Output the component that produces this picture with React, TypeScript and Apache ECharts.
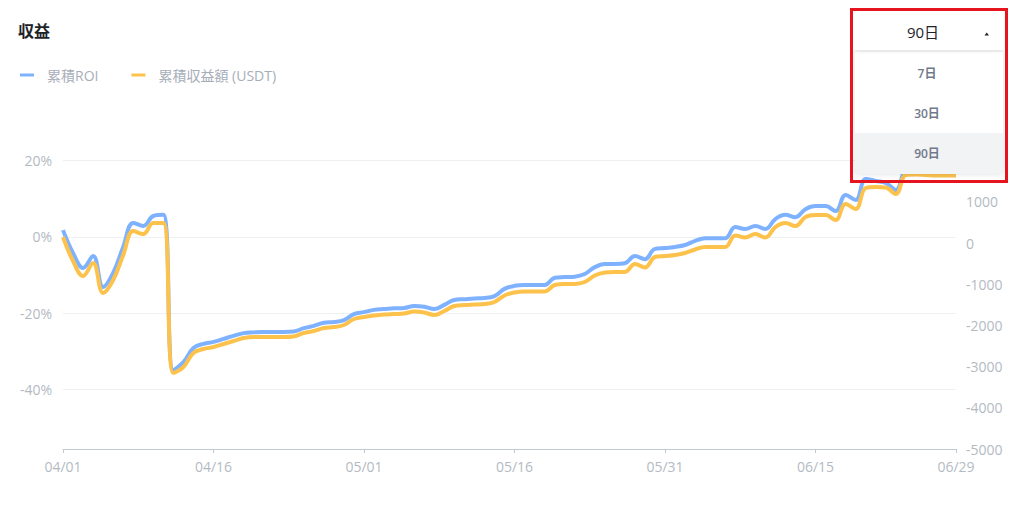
import React, { useEffect, useRef } from "react";
import * as echarts from "echarts";

const dates = [
  "04/01","04/02","04/03","04/04","04/05","04/06","04/07","04/08","04/09","04/10",
  "04/11","04/12","04/13","04/14","04/15","04/16","04/17","04/18","04/19","04/20",
  "04/21","04/22","04/23","04/24","04/25","04/26","04/27","04/28","04/29","04/30",
  "05/01","05/02","05/03","05/04","05/05","05/06","05/07","05/08","05/09","05/10",
  "05/11","05/12","05/13","05/14","05/15","05/16","05/17","05/18","05/19","05/20",
  "05/21","05/22","05/23","05/24","05/25","05/26","05/27","05/28","05/29","05/30",
  "05/31","06/01","06/02","06/03","06/04","06/05","06/06","06/07","06/08","06/09",
  "06/10","06/11","06/12","06/13","06/14","06/15","06/16","06/17","06/18","06/19",
  "06/20","06/21","06/22","06/23","06/24","06/25","06/26","06/27","06/28","06/29",
];

// 累積ROI (%)
const roi = [
  1.8, -4.2, -8.1, -5.0, -13.1, -9.4, -2.6, 3.7, 2.9, 5.5,
  5.8, -34.9, -32.8, -29.1, -28.0, -27.5, -26.7, -25.9, -25.2, -25.0,
  -24.9, -24.9, -24.9, -24.8, -23.9, -23.3, -22.5, -22.3, -21.8, -20.2,
  -19.7, -19.1, -18.9, -18.7, -18.6, -18.1, -18.3, -18.9, -17.8, -16.5,
  -16.3, -16.1, -16.0, -15.5, -13.6, -12.8, -12.6, -12.6, -12.6, -10.7,
  -10.5, -10.4, -9.7, -7.9, -7.1, -7.1, -6.9, -5.0, -5.8, -3.1,
  -2.9, -2.6, -2.1, -1.0, -0.3, -0.3, -0.3, 2.6, 2.1, 2.9,
  2.1, 4.7, 5.8, 5.2, 7.3, 8.1, 8.1, 6.8, 11.0, 9.7,
  15.2, 14.7, 14.2, 12.3, 18.1, 18.9, 19.1, 19.1, 19.1, 19.1,
];

// 累積収益額 (USDT)
const profit = [
  146, -437, -801, -485, -1214, -898, -291, 291, 218, 485,
  485, -3155, -3009, -2670, -2573, -2524, -2451, -2378, -2306, -2281,
  -2281, -2281, -2281, -2269, -2184, -2136, -2063, -2039, -1990, -1845,
  -1796, -1760, -1735, -1723, -1711, -1662, -1687, -1747, -1650, -1529,
  -1505, -1493, -1480, -1432, -1274, -1201, -1177, -1177, -1177, -1019,
  -995, -995, -947, -789, -716, -704, -704, -510, -595, -340,
  -316, -291, -243, -158, -97, -97, -97, 182, 133, 218,
  133, 388, 485, 413, 631, 680, 680, 558, 947, 825,
  1335, 1359, 1347, 1189, 1650, 1660, 1650, 1640, 1640, 1640,
];

const roiTicks = [-40, -20, 0, 20];
const profitTicks = [-5000, -4000, -3000, -2000, -1000, 0, 1000, 2000, 3000];
const rangeOptions = ["7日", "30日", "90日"];
const selectedRange = "90日";

const BLUE = "#7eb2ff";
const YELLOW = "#fcc24b";
const AXIS_TEXT = "#b4bac3";
const FONT = "'Open Sans', 'Noto Sans CJK JP', sans-serif";

export default function App() {
  const ref = useRef<HTMLDivElement | null>(null);

  useEffect(() => {
    if (!ref.current) return;
    const chart = echarts.init(ref.current, undefined, { renderer: "svg" });
    const labelInterval = (i: number) => i % 15 === 0 || i === dates.length - 1;

    const menuItems: any[] = [];
    rangeOptions.forEach((r, k) => {
      const cy = 73 + k * 40;
      if (r === selectedRange) {
        menuItems.push({
          type: "rect",
          z: 101,
          shape: { x: 855, y: cy - 20, width: 148, height: 41 },
          style: { fill: "#f2f3f5" },
        });
      }
      menuItems.push({
        type: "text",
        z: 102,
        x: 927,
        y: cy,
        style: {
          text: r,
          fill: "#707a8a",
          font: `600 12px ${FONT}`,
          align: "center",
          verticalAlign: "middle",
        },
      });
    });

    chart.setOption({
      animation: false,
      backgroundColor: "#ffffff",
      textStyle: { fontFamily: FONT },
      title: {
        text: "収益",
        left: 13,
        top: 18,
        textStyle: { fontSize: 16, fontWeight: "bold", color: "#1e2329", fontFamily: FONT },
      },
      legend: {
        left: 15,
        top: 63,
        icon: "rect",
        itemWidth: 14,
        itemHeight: 3,
        itemGap: 33,
        textStyle: { fontSize: 14, color: "#a7aeb8", fontFamily: FONT, padding: [0, 0, 0, 8] },
        data: ["累積ROI", "累積収益額 (USDT)"],
      },
      grid: { left: 63, right: 68, top: 100, bottom: 58, containLabel: false },
      xAxis: {
        type: "category",
        data: dates,
        boundaryGap: false,
        axisLine: { onZero: false, lineStyle: { color: "#c4c8cf", width: 1 } },
        axisTick: { show: true, length: 4, interval: labelInterval, lineStyle: { color: "#c4c8cf" } },
        axisLabel: { interval: labelInterval, color: AXIS_TEXT, fontSize: 14, margin: 10, fontFamily: FONT },
        splitLine: { show: false },
      },
      yAxis: [
        {
          type: "value",
          min: -55.57,
          max: 35.91,
          axisLine: { show: false },
          axisTick: { show: false, customValues: roiTicks },
          axisLabel: {
            customValues: roiTicks,
            formatter: (v: number) => `${v}%`,
            color: AXIS_TEXT,
            fontSize: 14,
            margin: 11,
            fontFamily: FONT,
          },
          splitLine: { show: true, lineStyle: { color: "#eef0f4", width: 1 } },
        },
        {
          type: "value",
          min: -5000,
          max: 3471,
          axisLine: { show: false },
          axisTick: { show: false, customValues: profitTicks },
          axisLabel: {
            customValues: profitTicks,
            formatter: (v: number) => String(v),
            color: AXIS_TEXT,
            fontSize: 14,
            margin: 10,
            fontFamily: FONT,
          },
          splitLine: { show: false },
        },
      ],
      series: [
        {
          name: "累積ROI",
          type: "line",
          yAxisIndex: 0,
          data: roi,
          smooth: 0.4,
          showSymbol: false,
          lineStyle: { color: BLUE, width: 4 },
          itemStyle: { color: BLUE },
        },
        {
          name: "累積収益額 (USDT)",
          type: "line",
          yAxisIndex: 1,
          data: profit,
          smooth: 0.4,
          showSymbol: false,
          lineStyle: { color: YELLOW, width: 4 },
          itemStyle: { color: YELLOW },
        },
      ],
      graphic: [
        {
          type: "group",
          z: 100,
          children: [
            {
              type: "rect",
              z: 100,
              shape: { x: 855, y: 52, width: 148, height: 122 },
              style: { fill: "#ffffff", shadowBlur: 6, shadowColor: "rgba(0,0,0,0.12)" },
            },
            {
              type: "rect",
              z: 100,
              shape: { x: 853, y: 11, width: 151, height: 39 },
              style: { fill: "#ffffff", shadowBlur: 4, shadowOffsetY: 1, shadowColor: "rgba(0,0,0,0.08)" },
            },
            ...menuItems,
            {
              type: "text",
              z: 102,
              x: 923,
              y: 32,
              style: {
                text: selectedRange,
                fill: "#1e2329",
                font: `15px ${FONT}`,
                align: "center",
                verticalAlign: "middle",
              },
            },
            {
              type: "polygon",
              z: 102,
              shape: { points: [[984.5, 35.5], [989, 35.5], [986.75, 32.5]] },
              style: { fill: "#1e2329" },
            },
            {
              type: "rect",
              z: 103,
              shape: { x: 851.5, y: 9.5, width: 155, height: 172 },
              style: { fill: "none", stroke: "#e5141e", lineWidth: 3 },
            },
          ],
        },
      ],
    });
    return () => chart.dispose();
  }, []);

  return (
    <div
      ref={ref}
      style={{ position: "fixed", left: 0, top: 0, width: 1024, height: 507, background: "#fff" }}
    />
  );
}
